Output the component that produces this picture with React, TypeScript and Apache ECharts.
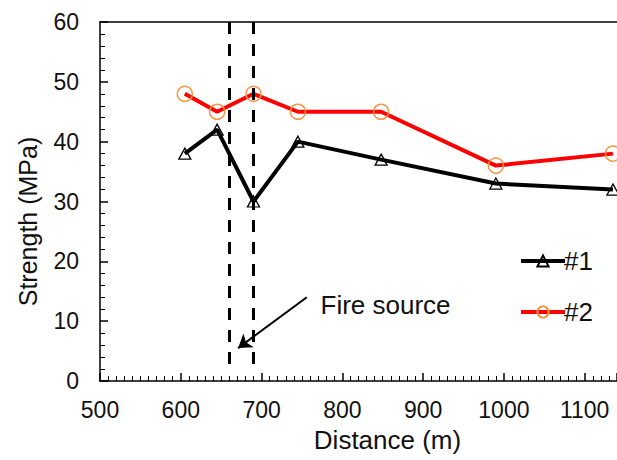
import React, { useEffect, useRef } from "react";
import * as echarts from "echarts";

const distance = [605, 645, 690, 745, 848, 990, 1135];
const series1 = [38, 42, 30, 40, 37, 33, 32];
const series2 = [48, 45, 48, 45, 45, 36, 38];
const seriesNames = ["#1", "#2"];
const fireLines = [660, 690];
const arrowFrom = [756, 14];
const arrowTo = [671, 5.5];
const fireLabelAt = [773, 12.7];
const fireLabel = "Fire source";

const FONT = "'Liberation Sans', Arial, sans-serif";

export default function App() {
  const ref = useRef<HTMLDivElement>(null);
  useEffect(() => {
    if (!ref.current) return;
    const chart = echarts.init(ref.current, null, { renderer: "svg" });
    const d1 = distance.map((x, i) => [x, series1[i]]);
    const d2 = distance.map((x, i) => [x, series2[i]]);
    chart.setOption({
      animation: false,
      backgroundColor: "#fff",
      textStyle: { fontFamily: FONT },
      grid: { left: 100, right: -3, top: 22, bottom: 79, containLabel: false },
      legend: {
        orient: "vertical",
        left: 514,
        top: 243,
        itemWidth: 44,
        itemHeight: 14,
        itemGap: 25,
        lineStyle: { width: 4 },
        textStyle: { fontSize: 26, color: "#111", fontFamily: FONT, padding: [0, 0, 0, -6] },
        data: seriesNames,
      },
      xAxis: [
        {
          type: "value",
          min: 500,
          max: 1140,
          interval: 100,
          position: "bottom",
          name: "Distance (m)",
          nameLocation: "middle",
          nameGap: 46,
          nameTextStyle: { fontSize: 26, color: "#111", fontFamily: FONT, padding: [0, 0, 0, 58] },
          axisLine: { lineStyle: { color: "#000", width: 1.5 } },
          axisTick: { inside: true, length: 8, lineStyle: { color: "#000", width: 1.5 } },
          minorTick: { show: true, splitNumber: 10, length: 5, lineStyle: { color: "#000", width: 1 } },
          axisLabel: {
            fontSize: 23,
            color: "#111",
            margin: 17,
            showMaxLabel: false,
            fontFamily: FONT,
            formatter: (v: number) => String(v),
          },
          splitLine: { show: false },
        },
        {
          type: "value",
          min: 500,
          max: 1140,
          position: "top",
          axisLine: { lineStyle: { color: "#000", width: 1.5 } },
          axisTick: { show: false },
          axisLabel: { show: false },
          splitLine: { show: false },
        },
      ],
      yAxis: {
        type: "value",
        min: 0,
        max: 60,
        interval: 10,
        name: "Strength (MPa)",
        nameLocation: "middle",
        nameGap: 60,
        nameTextStyle: { fontSize: 25, color: "#111", fontFamily: FONT, padding: [0, 40, 0, 0] },
        axisLine: { show: true, lineStyle: { color: "#000", width: 1.5 } },
        axisTick: { inside: true, length: 8, lineStyle: { color: "#000", width: 1.5 } },
        minorTick: { show: true, splitNumber: 5, length: 5, lineStyle: { color: "#000", width: 1 } },
        axisLabel: { fontSize: 23, color: "#111", margin: 21, fontFamily: FONT },
        splitLine: { show: false },
      },
      series: [
        {
          name: seriesNames[0],
          type: "line",
          data: d1,
          symbol: "triangle",
          symbolSize: [12, 11],
          lineStyle: { color: "#000", width: 4 },
          itemStyle: { color: "rgba(255,255,255,0)", borderColor: "#000", borderWidth: 1.3 },
          z: 3,
          markLine: {
            silent: true,
            symbol: ["none", "none"],
            label: { show: false },
            lineStyle: { color: "#000", width: 3, type: [12, 10] },
            data: fireLines.map((x) => [
              { coord: [x, 60] },
              { coord: [x, 2.8] },
            ]),
          },
        },
        {
          name: seriesNames[1],
          type: "line",
          data: d2,
          symbol: "circle",
          symbolSize: 15,
          lineStyle: { color: "#f00", width: 4 },
          itemStyle: { color: "rgba(255,255,255,0)", borderColor: "#F79646", borderWidth: 1.5 },
          z: 3,
          markLine: {
            silent: true,
            symbol: ["none", "arrow"],
            symbolSize: 13,
            label: { show: false },
            lineStyle: { color: "#000", width: 2, type: "solid" },
            data: [[{ coord: arrowFrom }, { coord: arrowTo }]],
          },
          markPoint: {
            silent: true,
            symbol: "circle",
            symbolSize: 0,
            data: [{ coord: fireLabelAt }],
            label: {
              show: true,
              position: "inside",
              align: "left",
              verticalAlign: "middle",
              formatter: fireLabel,
              fontSize: 26,
              color: "#111",
              fontFamily: FONT,
            },
          },
        },
      ],
    });
    return () => chart.dispose();
  }, []);
  return <div ref={ref} style={{ width: 617, height: 460, position: "absolute", left: 0, top: 0 }} />;
}
